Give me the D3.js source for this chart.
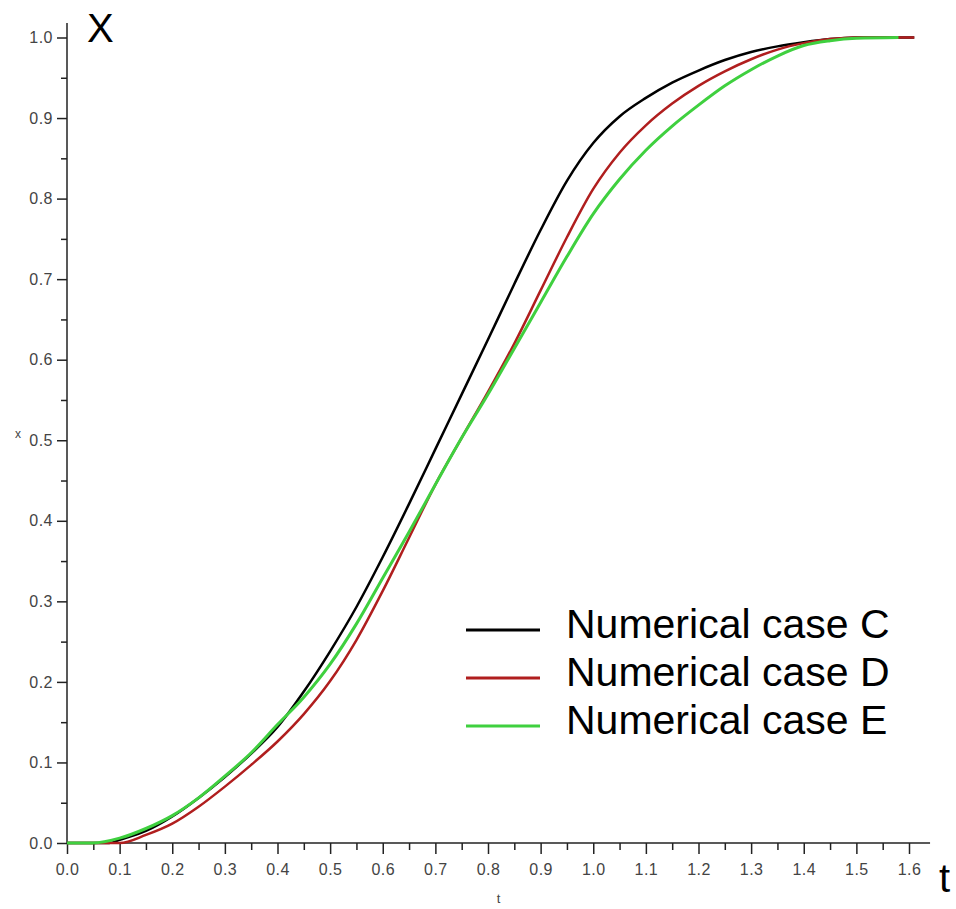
<!DOCTYPE html>
<html>
<head>
<meta charset="utf-8">
<script src="https://cdn.jsdelivr.net/npm/d3@7"></script>
<style>
  body { margin: 0; background: #fff; }
  svg { display: block; font-family: "Liberation Sans", Arial, sans-serif; }
</style>
</head>
<body>
<script>
// values
const tC = [0, 0.05, 0.08, 0.1, 0.15, 0.2, 0.25, 0.3, 0.35, 0.4, 0.45, 0.5, 0.55, 0.6, 0.65, 0.7, 0.75, 0.8, 0.85, 0.9, 0.95, 1.0, 1.05, 1.1, 1.15, 1.2, 1.25, 1.3, 1.35, 1.4, 1.45, 1.5, 1.55, 1.61];
const xC = [0, 0, 0, 0.004, 0.015, 0.033, 0.056, 0.082, 0.111, 0.144, 0.188, 0.238, 0.293, 0.355, 0.421, 0.489, 0.557, 0.625, 0.694, 0.761, 0.822, 0.869, 0.902, 0.925, 0.944, 0.959, 0.972, 0.982, 0.989, 0.994, 0.998, 1.0, 1.0, 1.0];

const tD = [0, 0.05, 0.1, 0.15, 0.2, 0.25, 0.3, 0.35, 0.4, 0.45, 0.5, 0.55, 0.6, 0.65, 0.7, 0.75, 0.8, 0.85, 0.9, 0.95, 1.0, 1.05, 1.1, 1.15, 1.2, 1.25, 1.3, 1.35, 1.4, 1.45, 1.5, 1.55, 1.61];
const xD = [0, 0, 0, 0.01, 0.024, 0.045, 0.07, 0.097, 0.126, 0.16, 0.201, 0.252, 0.313, 0.379, 0.445, 0.503, 0.56, 0.62, 0.686, 0.752, 0.812, 0.857, 0.891, 0.918, 0.94, 0.958, 0.973, 0.985, 0.993, 0.998, 1.0, 1.0, 1.0];

const tE = [0, 0.05, 0.1, 0.15, 0.2, 0.25, 0.3, 0.35, 0.4, 0.45, 0.5, 0.55, 0.6, 0.65, 0.7, 0.75, 0.8, 0.85, 0.9, 0.95, 1.0, 1.05, 1.1, 1.15, 1.2, 1.25, 1.3, 1.35, 1.4, 1.45, 1.5, 1.58];
const xE = [0, 0, 0.006, 0.018, 0.034, 0.056, 0.083, 0.112, 0.147, 0.181, 0.222, 0.272, 0.329, 0.386, 0.445, 0.503, 0.557, 0.614, 0.671, 0.728, 0.781, 0.824, 0.86, 0.89, 0.916, 0.94, 0.96, 0.977, 0.99, 0.996, 0.999, 1.0];

const seriesNames = ["Numerical case C", "Numerical case D", "Numerical case E"];
const seriesColors = ["#000000", "#b01e1e", "#3fd03f"];

const xTicks = [0, 0.1, 0.2, 0.3, 0.4, 0.5, 0.6, 0.7, 0.8, 0.9, 1.0, 1.1, 1.2, 1.3, 1.4, 1.5, 1.6];
const xMinor = [0.05, 0.15, 0.25, 0.35, 0.45, 0.55, 0.65, 0.75, 0.85, 0.95, 1.05, 1.15, 1.25, 1.35, 1.45, 1.55];
const yTicks = [0, 0.1, 0.2, 0.3, 0.4, 0.5, 0.6, 0.7, 0.8, 0.9, 1.0];
const yMinor = [0.05, 0.15, 0.25, 0.35, 0.45, 0.55, 0.65, 0.75, 0.85, 0.95];

const w = 956;
const h = 909;

const series = [
  tC.map((t, i) => [t, xC[i]]),
  tD.map((t, i) => [t, xD[i]]),
  tE.map((t, i) => [t, xE[i]])
];

const xScale = d3.scaleLinear().domain([0, 1.6]).range([67, 909]);
const yScale = d3.scaleLinear().domain([0, 1]).range([843, 37.5]);

const svg = d3.select("body")
  .append("svg")
  .attr("width", w)
  .attr("height", h);

// axis lines, a little past the last tick
svg.append("line")
  .attr("x1", xScale(0)).attr("x2", xScale(1.64))
  .attr("y1", yScale(0)).attr("y2", yScale(0))
  .attr("stroke", "#222").attr("stroke-width", 1.5);
svg.append("line")
  .attr("x1", xScale(0)).attr("x2", xScale(0))
  .attr("y1", yScale(0)).attr("y2", yScale(1.018))
  .attr("stroke", "#222").attr("stroke-width", 1.5);

const xAxis = d3.axisBottom(xScale)
  .tickValues(xTicks)
  .tickSize(11)
  .tickPadding(10)
  .tickFormat(d3.format(".1f"));

svg.append("g")
  .attr("transform", "translate(0," + yScale(0) + ")")
  .call(xAxis);

svg.append("g")
  .attr("transform", "translate(0," + yScale(0) + ")")
  .call(d3.axisBottom(xScale).tickValues(xMinor).tickSize(7).tickFormat(""));

const yAxis = d3.axisLeft(yScale)
  .tickValues(yTicks)
  .tickSize(10)
  .tickPadding(4)
  .tickFormat(d3.format(".1f"));

svg.append("g")
  .attr("transform", "translate(" + xScale(0) + ",0)")
  .call(yAxis);

svg.append("g")
  .attr("transform", "translate(" + xScale(0) + ",0)")
  .call(d3.axisLeft(yScale).tickValues(yMinor).tickSize(6).tickFormat(""));

svg.selectAll(".domain").remove();
svg.selectAll(".tick line").attr("stroke", "#222").attr("stroke-width", 1.5);
svg.selectAll(".tick text")
  .attr("fill", "#444")
  .attr("font-size", 16)
  .attr("letter-spacing", 0.5)
  .attr("font-family", "'Liberation Sans', Arial, sans-serif");

// curves
const line = d3.line()
  .x(d => xScale(d[0]))
  .y(d => yScale(d[1]))
  .curve(d3.curveMonotoneX);

svg.selectAll(".curve")
  .data(series)
  .enter()
  .append("path")
  .attr("class", "curve")
  .attr("d", line)
  .attr("fill", "none")
  .attr("stroke", (d, i) => seriesColors[i])
  .attr("stroke-width", (d, i) => i == 2 ? 3 : 2.5)
  .attr("stroke-linejoin", "round");

// axis titles
svg.append("text")
  .attr("x", 87)
  .attr("y", 42)
  .attr("font-size", 40)
  .text("X");

svg.append("text")
  .attr("x", 939)
  .attr("y", 892)
  .attr("font-size", 40)
  .text("t");

svg.append("text")
  .attr("x", (xScale(0) + xScale(1.64)) / 2)
  .attr("y", 903)
  .attr("text-anchor", "middle")
  .attr("font-size", 13)
  .attr("fill", "#444")
  .text("t");

svg.append("text")
  .attr("x", 15)
  .attr("y", 438)
  .attr("font-size", 12)
  .attr("fill", "#444")
  .text("x");

// legend
const legend = svg.append("g").attr("id", "legend");
const legendRows = legend.selectAll("g")
  .data(seriesNames)
  .enter()
  .append("g")
  .attr("transform", (d, i) => "translate(0," + (630 + i * 48) + ")");

legendRows.append("line")
  .attr("x1", 466).attr("x2", 540)
  .attr("y1", 0).attr("y2", 0)
  .attr("stroke", (d, i) => seriesColors[i])
  .attr("stroke-width", 3);

legendRows.append("text")
  .attr("x", 566)
  .attr("y", 8)
  .attr("font-size", 41)
  .attr("fill", "#000")
  .text(d => d);
</script>
</body>
</html>
